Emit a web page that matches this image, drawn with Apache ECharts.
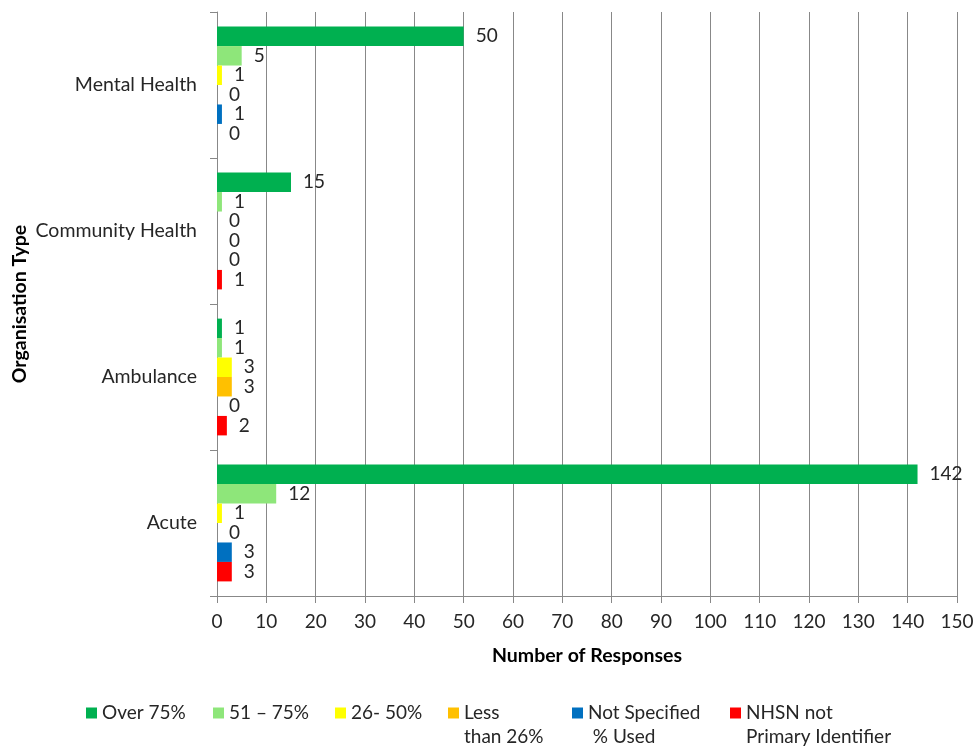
<!DOCTYPE html>
<html>
<head>
<meta charset="utf-8">
<script src="https://cdn.jsdelivr.net/npm/echarts@6/dist/echarts.min.js"></script>
<style>
  html, body { margin: 0; padding: 0; background: #fff; }
  #chart { width: 976px; height: 749px; }
</style>
</head>
<body>
<div id="chart"></div>
<script>
// Organisation types, bottom to top on the category axis
const categories = ['Acute', 'Ambulance', 'Community Health', 'Mental Health'];

// Responses per organisation type (same order as categories)
const over75       = [142, 1, 15, 50];
const from51to75   = [12, 1, 1, 5];
const from26to50   = [1, 3, 0, 1];
const lessThan26   = [0, 3, 0, 0];
const notSpecified = [3, 0, 0, 1];
const nhsnNotPrimary = [3, 2, 1, 0];

const seriesNames = ['Over 75%', '51 – 75%', '26- 50%', 'Less than 26%', 'Not Specified % Used', 'NHSN not Primary Identifier'];
const legendText  = [['Over 75%'], ['51 – 75%'], ['26- 50%'], ['Less', 'than 26%'], ['Not Specified', ' % Used'], ['NHSN not', 'Primary Identifier']];
const seriesData  = [over75, from51to75, from26to50, lessThan26, notSpecified, nhsnNotPrimary];
const colors      = ['#00B050', '#8EE67A', '#FFFF00', '#FFC000', '#0070C0', '#FF0000'];

const xTicks = { min: 0, max: 150, step: 10 };

const FONT = 'Lato';
const TXT = '#262626';
const GRID = '#888888';

const chart = echarts.init(document.getElementById('chart'));

const series = seriesNames.map((name, i) => ({
  name: name,
  type: 'bar',
  data: seriesData[i],
  itemStyle: { color: colors[i] },
  barGap: '0%',
  barCategoryGap: '20%',
  label: {
    show: true,
    position: 'right',
    distance: 12,
    color: TXT,
    fontFamily: FONT,
    fontSize: 19
  }
}));

// One legend block per series so each entry sits at its own place.
// Text is padded to three lines so the swatch lines up with the first line.
const legendLeft = [86, 213, 335, 448, 572, 730];
const legends = seriesNames.map((name, i) => ({
  data: [name],
  left: legendLeft[i],
  top: 677,
  padding: 0,
  icon: 'rect',
  itemWidth: 11,
  itemHeight: 11,
  selectedMode: false,
  formatter: () => {
    const lines = legendText[i].slice();
    if (lines.length < 2) lines.push(' ');
    return [' '].concat(lines).join('\n');
  },
  textStyle: {
    fontFamily: FONT,
    fontSize: 19,
    color: TXT,
    lineHeight: 24
  }
}));

chart.setOption({
  animation: false,
  grid: { left: 217, right: 19, top: 12, bottom: 153, containLabel: false, outerBoundsMode: 'none' },
  legend: legends,
  xAxis: {
    type: 'value',
    min: xTicks.min,
    max: xTicks.max,
    interval: xTicks.step,
    name: 'Number of Responses',
    nameLocation: 'middle',
    nameGap: 50,
    nameMoveOverlap: false,
    nameTextStyle: { fontFamily: FONT, fontSize: 19.5, fontWeight: 'bold', color: '#000' },
    axisLine: { show: true, lineStyle: { color: GRID } },
    axisTick: { show: true, length: 7, lineStyle: { color: GRID } },
    axisLabel: { color: TXT, fontFamily: FONT, fontSize: 19, margin: 16 },
    splitLine: { show: true, lineStyle: { color: GRID } }
  },
  yAxis: {
    type: 'category',
    data: categories,
    name: 'Organisation Type',
    nameLocation: 'middle',
    nameGap: 187,
    nameMoveOverlap: false,
    nameRotate: 90,
    nameTextStyle: { fontFamily: FONT, fontSize: 19.5, fontWeight: 'bold', color: '#000' },
    axisLine: { show: true, lineStyle: { color: GRID } },
    axisTick: { show: true, length: 7, interval: 0, lineStyle: { color: GRID } },
    axisLabel: { color: TXT, fontFamily: FONT, fontSize: 19.5, margin: 20 },
    splitLine: { show: false }
  },
  series: series
});
</script>
</body>
</html>
